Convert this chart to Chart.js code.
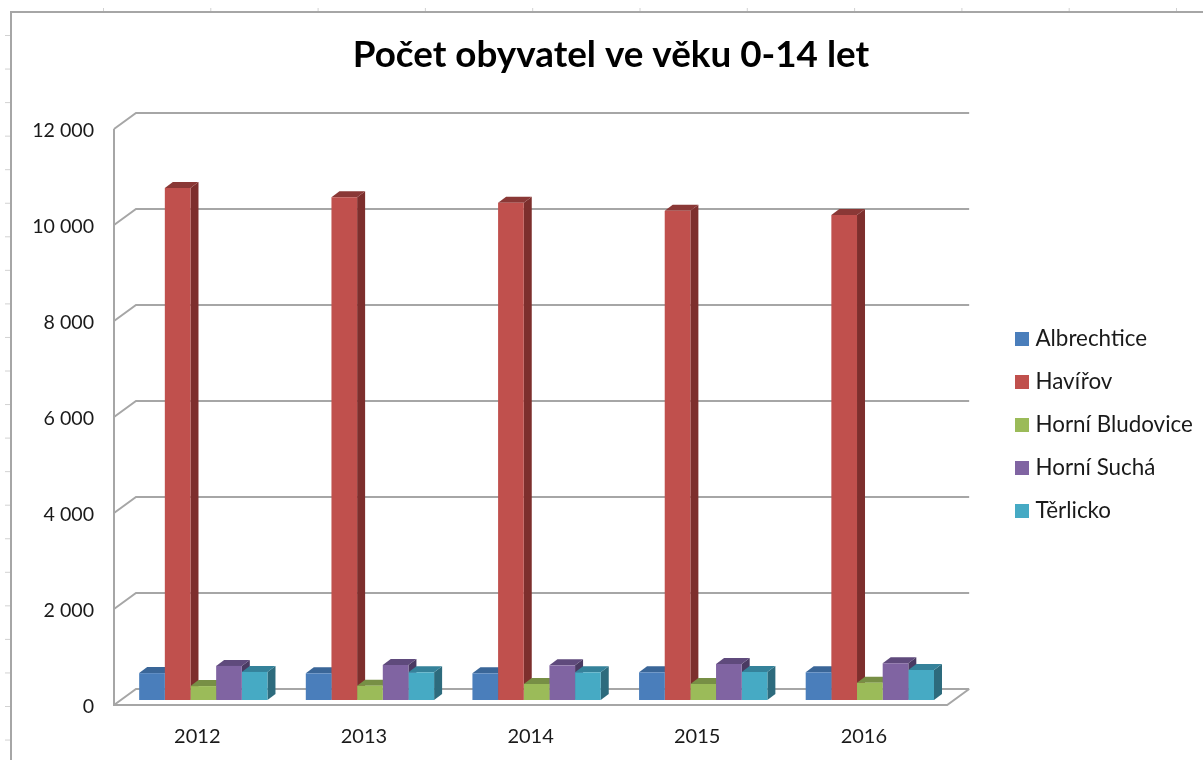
<!DOCTYPE html>
<html lang="cs">
<head>
<meta charset="utf-8">
<style>html,body{margin:0;padding:0;background:#fff}canvas{display:block}</style>
<script src="https://cdn.jsdelivr.net/npm/chart.js@4"></script>
</head>
<body>
<canvas id="c" width="1203" height="760"></canvas>
<script>
const titleText = 'Počet obyvatel ve věku 0-14 let';
const years = ['2012','2013','2014','2015','2016'];
const albrechtice = [560,556,556,577,577];
const havirov = [10667,10473,10360,10194,10104];
const horniBludovice = [290,298,333,333,360];
const horniSucha = [710,729,722,750,764];
const terlicko = [585,577,577,583,625];
const seriesNames = ['Albrechtice','Havířov','Horní Bludovice','Horní Suchá','Těrlicko'];
const seriesColors = ['#4a7ebb','#c0504d','#9bbb59','#8064a2','#46aac4'];
const topColors = ['#3a6698','#8a3836','#778f45','#5f4a7c','#35829a'];
const sideColors = ['#2f5480','#7d2f2d','#5f7337','#4a3a62','#2d6b7d'];
const yTicks = [0,2000,4000,6000,8000,10000,12000];

const FONT = 'Lato, Carlito, sans-serif';
const GRID = '#a6a6a6', MARK = '#d2d2d2';
const PLANE_Y = -2;               // front plane sits just above the tick label centres
const DEPTH = {x:22, y:-16};      // wall depth
const BAR_SHIFT = {x:6, y:-7};    // bars stand a little behind the front plane
const BAR_DEPTH = {x:8, y:-6};    // depth of a column

function legendSwatch(color){
  const c = document.createElement('canvas');
  c.width = 14; c.height = 14;
  const g = c.getContext('2d');
  g.fillStyle = color; g.fillRect(0,0,14,14);
  return c;
}
function line(ctx,pts){
  ctx.beginPath();
  pts.forEach((p,i)=> i?ctx.lineTo(p[0],p[1]):ctx.moveTo(p[0],p[1]));
  ctx.stroke();
}
function poly(ctx,pts,color){
  ctx.fillStyle=color; ctx.beginPath();
  pts.forEach((p,i)=> i?ctx.lineTo(p[0],p[1]):ctx.moveTo(p[0],p[1]));
  ctx.closePath(); ctx.fill();
}

const threeD = {
  id:'threeD',
  beforeDraw(chart){
    const {ctx,chartArea:a,scales:{y}} = chart;
    ctx.save();
    // sheet frame and its ruler marks
    ctx.strokeStyle = MARK; ctx.lineWidth = 1;
    for(let k=0;k<11;k++){const x=103+107.3*k+.5; line(ctx,[[x,8],[x,12]]);}
    for(let k=0;k<22;k++){const v=35+33.55*k+.5; line(ctx,[[5,v],[11,v]]);}
    ctx.strokeStyle = GRID; ctx.lineWidth = 2;
    line(ctx,[[1203,12],[11,12],[11,760]]);
    // walls
    ctx.translate(0,PLANE_Y);
    yTicks.forEach(v=>{
      const p = y.getPixelForValue(v);
      line(ctx,[[a.left,p],[a.left+DEPTH.x,p+DEPTH.y],[a.right+DEPTH.x,p+DEPTH.y]]);
    });
    line(ctx,[[a.left,a.top],[a.left,a.bottom],[a.right,a.bottom],[a.right+DEPTH.x,a.bottom+DEPTH.y]]);
    ctx.restore();
  },
  beforeDatasetsDraw(chart){
    const {ctx} = chart;
    ctx.save();
    ctx.translate(BAR_SHIFT.x,BAR_SHIFT.y);
    const dx=BAR_DEPTH.x, dy=BAR_DEPTH.y;
    years.forEach((_,i)=>{
      seriesNames.forEach((_,s)=>{
        const b = chart.getDatasetMeta(s).data[i];
        const l=b.x-b.width/2, r=b.x+b.width/2, t=b.y, bt=b.base;
        poly(ctx,[[r,t],[r+dx,t+dy],[r+dx,bt+dy],[r,bt]],sideColors[s]);
        poly(ctx,[[l,t],[l+dx,t+dy],[r+dx,t+dy],[r,t]],topColors[s]);
      });
    });
  },
  afterDatasetsDraw(chart){ chart.ctx.restore(); }
};

const arrays = [albrechtice,havirov,horniBludovice,horniSucha,terlicko];
new Chart(document.getElementById('c'),{
  type:'bar',
  data:{
    labels:years,
    datasets:seriesNames.map((n,i)=>({
      label:n,data:arrays[i],backgroundColor:seriesColors[i],
      borderWidth:0,categoryPercentage:0.77,barPercentage:1,clip:false
    }))
  },
  plugins:[threeD],
  options:{
    responsive:false,animation:false,
    layout:{padding:{left:28,right:9,top:33,bottom:0}},
    plugins:{
      tooltip:{enabled:false},
      title:{display:true,text:titleText,color:'#000',
        font:{family:FONT,size:36.8,weight:'bold',lineHeight:1.2},
        padding:{top:0,bottom:53.8}},
      legend:{position:'right',fullSize:false,
        title:{display:true,text:' ',font:{size:10,lineHeight:1.2},padding:0},
        labels:{color:'#1a1a1a',font:{family:FONT,size:22.4},padding:20.6,
          usePointStyle:true,pointStyleWidth:4,boxHeight:14,
          generateLabels(chart){
            return Chart.defaults.plugins.legend.labels.generateLabels(chart).map((it,i)=>
              Object.assign(it,{pointStyle:legendSwatch(seriesColors[i])}));
          }}}
    },
    scales:{
      x:{grid:{display:false,drawTicks:false,tickLength:0},border:{display:false},
        ticks:{color:'#1a1a1a',font:{family:FONT,size:20},padding:18,maxRotation:0},
        afterFit(s){s.height=53;}},
      y:{min:0,max:12000,grid:{display:false,drawTicks:false,tickLength:0},border:{display:false},
        ticks:{stepSize:2000,color:'#1a1a1a',font:{family:FONT,size:19.6},padding:20,
          callback:v=>String(v).replace(/\B(?=(\d{3})+$)/g,' ')},
        afterFit(s){s.width=86;}},
      pad:{type:'linear',position:'right',min:0,max:1,
        grid:{display:false},border:{display:false},ticks:{display:false},
        afterFit(s){s.width=52.5;}}
    }
  }
});
</script>
</body>
</html>
